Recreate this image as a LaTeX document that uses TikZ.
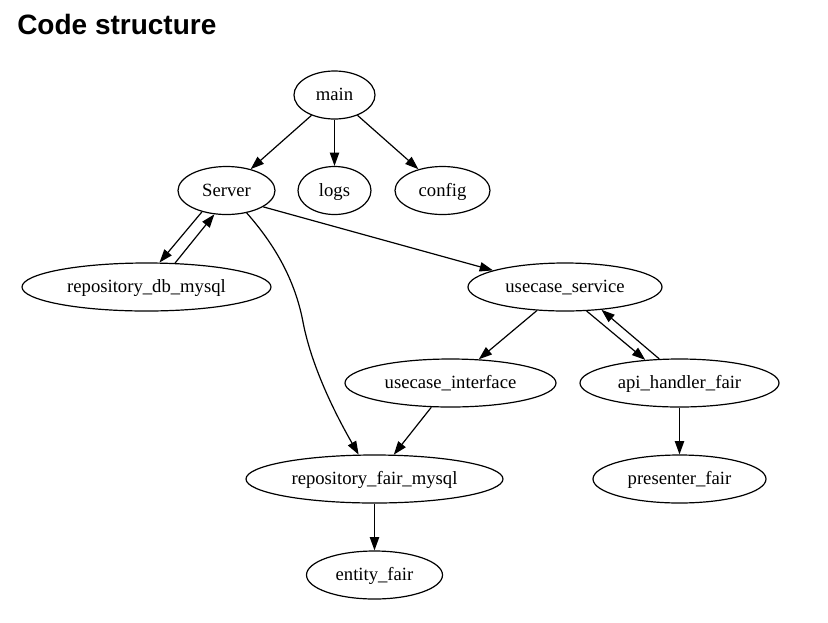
\documentclass[tikz,border=0pt]{standalone}
\usepackage{fontspec}
\setmainfont{Liberation Serif}
\newfontfamily\titlefont{Liberation Sans}
\usetikzlibrary{shapes.geometric,arrows.meta}

\tikzset{
  mod/.style={ellipse, draw, line width=0.9pt, inner sep=0pt,
    minimum height=36pt, text height=11.6pt, text depth=3pt,
    font=\fontsize{14}{16}\selectfont},
  dep/.style={line width=0.9pt, -{Triangle[length=10pt,width=7pt]}},
}

\begin{document}
\begin{tikzpicture}[x=0.75pt, y=-0.75pt]
  \useasboundingbox (0,0) rectangle (828,622);

  \node[anchor=base west, inner sep=0pt, font=\titlefont\fontsize{21}{25}\selectfont\bfseries]
    (title) at (17,34) {Code structure};

  % modules
  \node[mod, minimum width=60.75pt]  (main) at (334.5,95)  {main};
  \node[mod, minimum width=72.75pt]  (srv)  at (226.5,190.5) {Server};
  \node[mod, minimum width=54.75pt]  (logs) at (334.5,190.5) {logs};
  \node[mod, minimum width=71.25pt]  (cfg)  at (442.5,190.5) {config};
  \node[mod, minimum width=186.75pt] (rdb)  at (146.5,287) {repository\_db\_mysql};
  \node[mod, minimum width=145.5pt]  (ucs)  at (565,287)   {usecase\_service};
  \node[mod, minimum width=158.25pt] (uci)  at (450.5,383) {usecase\_interface};
  \node[mod, minimum width=149.25pt] (api)  at (679.5,383) {api\_handler\_fair};
  \node[mod, minimum width=192.75pt] (rfm)  at (374.5,479) {repository\_fair\_mysql};
  \node[mod, minimum width=129.75pt] (pres) at (679.5,479) {presenter\_fair};
  \node[mod, minimum width=102pt]    (ent)  at (374.5,575) {entity\_fair};

  % dependencies
  \draw[dep] (main) -- (srv);
  \draw[dep] (main) -- (logs);
  \draw[dep] (main) -- (cfg);
  \draw[dep] (srv.221) -- (rdb.62);
  \draw[dep] (rdb.40) -- (srv.243);
  \draw[dep] (srv.336) -- (ucs.167);
  \draw[dep] (srv.312) .. controls (275,245) and (295,280) .. (303,322)
                       .. controls (311,364) and (333,410) .. (rfm.123);
  \draw[dep] (ucs) -- (uci);
  \draw[dep] (ucs.312) -- (api.146);
  \draw[dep] (api.130) -- (ucs.328);
  \draw[dep] (uci) -- (rfm);
  \draw[dep] (api) -- (pres);
  \draw[dep] (rfm) -- (ent);
\end{tikzpicture}
\end{document}
